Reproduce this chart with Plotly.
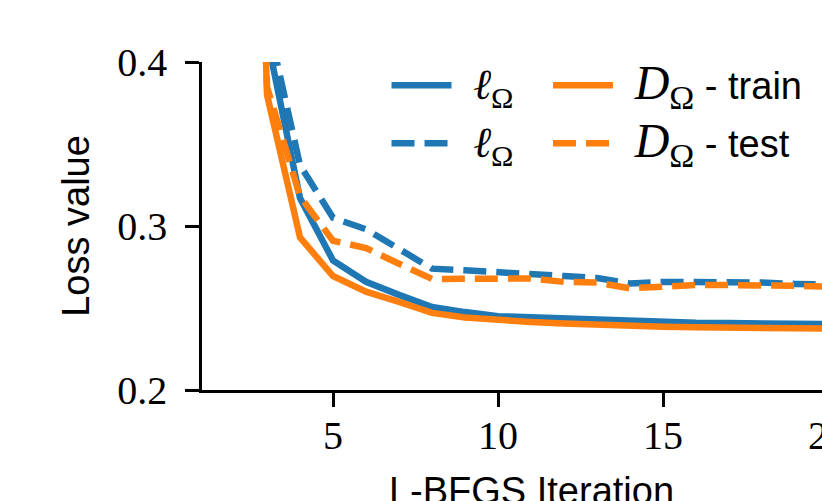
import plotly.graph_objects as go

iterations = list(range(1, 21))
l_omega_train = [1.90, 0.95, 0.415, 0.317, 0.279, 0.266, 0.258, 0.2506, 0.2475, 0.245,
                 0.2443, 0.2435, 0.2425, 0.2418, 0.2412, 0.2410, 0.2408, 0.2406, 0.2404, 0.2402]
l_omega_test = [2.00, 1.00, 0.427, 0.337, 0.305, 0.298, 0.286, 0.274, 0.273, 0.272,
                0.2713, 0.2695, 0.2683, 0.265, 0.2659, 0.2659, 0.266, 0.2655, 0.2647, 0.2643]
d_omega_train = [1.80, 1.05, 0.380, 0.293, 0.2695, 0.260, 0.2537, 0.247, 0.2442, 0.2425,
                 0.2415, 0.2405, 0.2396, 0.2390, 0.2386, 0.2383, 0.2380, 0.2378, 0.2376, 0.2374]
d_omega_test = [1.90, 1.00, 0.385, 0.318, 0.291, 0.2866, 0.277, 0.2677, 0.2678, 0.268,
                0.268, 0.2659, 0.2655, 0.262, 0.2634, 0.264, 0.264, 0.264, 0.2635, 0.263]

y_ticks = [0.2, 0.3, 0.4]
y_ticktext = ["0.2", "0.3", "0.4"]
x_ticks = [5, 10, 15, 20]
x_ticktext = ["5", "10", "15", "20"]

BLUE = "#1f77b4"
ORANGE = "#ff7f0e"
SERIF = "Liberation Serif"
SANS = "Liberation Sans"

gap = '<span style="font-size:30px">\u00a0\u00a0</span>'
ell = gap + f'<span style="font-family:{SERIF};font-size:43px"><i>ℓ</i><sub>Ω</sub></span>'
dom = gap + f'<span style="font-family:{SERIF};font-size:48px"><i>D</i><sub>Ω</sub></span>'
sfx = '<span style="font-size:38px"> - {}</span>'

LW = 6.5
DASH = "23px,10px"

fig = go.Figure()
fig.add_trace(go.Scatter(x=iterations, y=l_omega_train, mode="lines", name=ell,
                         line=dict(color=BLUE, width=LW), legend="legend", legendgroup="a"))
fig.add_trace(go.Scatter(x=iterations, y=l_omega_test, mode="lines", name=ell,
                         line=dict(color=BLUE, width=LW, dash=DASH), legend="legend", legendgroup="b"))
fig.add_trace(go.Scatter(x=iterations, y=d_omega_train, mode="lines", name=dom + sfx.format("train"),
                         line=dict(color=ORANGE, width=LW), legend="legend2", legendgroup="c"))
fig.add_trace(go.Scatter(x=iterations, y=d_omega_test, mode="lines", name=dom + sfx.format("test"),
                         line=dict(color=ORANGE, width=LW, dash=DASH), legend="legend2", legendgroup="d"))

legend_common = dict(font=dict(family=SANS, size=36, color="black"), bgcolor="rgba(0,0,0,0)",
                     tracegroupgap=8, itemwidth=60, xanchor="left", yanchor="top",
                     xref="paper", yref="paper")

fig.update_layout(
    width=900, height=530,
    margin=dict(l=202, r=39, t=62, b=140),
    plot_bgcolor="white", paper_bgcolor="white",
    showlegend=True,
    legend=dict(x=0.28, y=1.02, **legend_common),
    legend2=dict(x=0.525, y=1.02, **legend_common),
    xaxis=dict(range=[1.03, 21], tickvals=x_ticks, ticktext=x_ticktext,
               showgrid=False, zeroline=False, showline=True, linecolor="black", linewidth=2.5,
               ticks="outside", ticklen=14, tickwidth=2.5, tickcolor="black",
               tickfont=dict(family=SERIF, size=40, color="black"), ticklabelstandoff=-6,
               title=dict(text="L-BFGS Iteration", font=dict(family=SANS, size=38, color="black"), standoff=21)),
    yaxis=dict(range=[0.2, 0.4], tickvals=y_ticks, ticktext=y_ticktext,
               showgrid=False, zeroline=False, showline=True, linecolor="black", linewidth=2.5,
               ticks="outside", ticklen=14, tickwidth=2.5, tickcolor="black",
               tickfont=dict(family=SERIF, size=40, color="black"), ticklabelstandoff=10,
               title=dict(text="Loss value", font=dict(family=SANS, size=38, color="black"), standoff=16)),
)

fig.write_html("out.html", config={"displayModeBar": False}, post_script=(
    "document.body.style.margin='0';document.body.style.overflow='hidden';"
    "document.documentElement.style.overflow='hidden';"))
